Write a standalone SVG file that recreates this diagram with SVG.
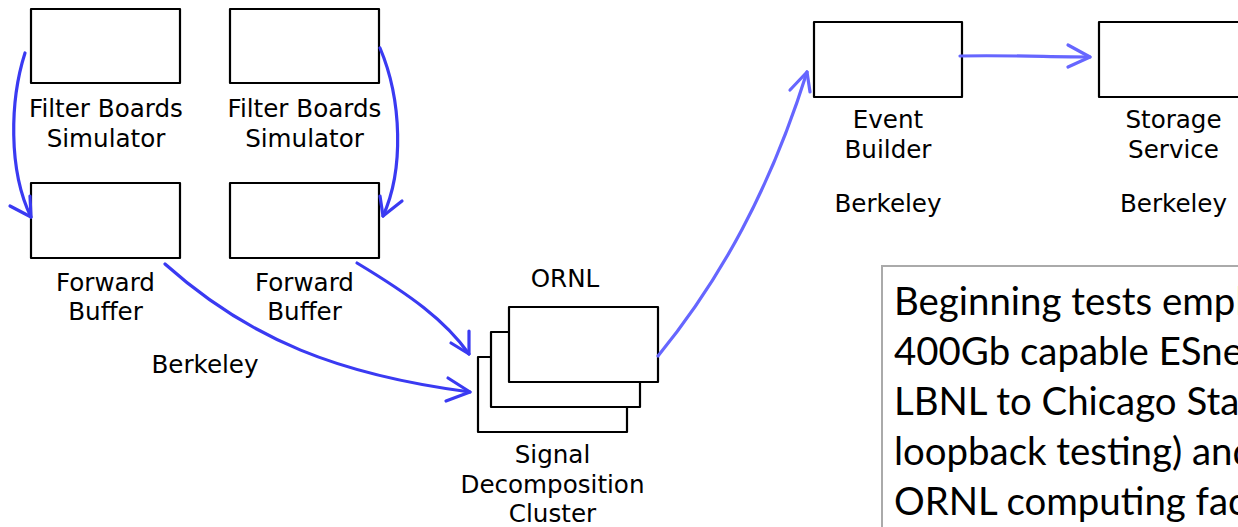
<svg xmlns="http://www.w3.org/2000/svg" width="1238" height="527" viewBox="0 0 1238 527">
  <defs>
    <style>
      .box { fill: #ffffff; stroke: #000000; stroke-width: 2.2; stroke-linejoin: round; }
      .lbl { font-family: "DejaVu Sans", Verdana, sans-serif; font-size: 24.6px; fill: #000000; text-anchor: middle; }
      .edge-a { fill: none; stroke: #3a3af2; stroke-width: 3.2; stroke-linecap: round; stroke-linejoin: round; }
      .edge-b { fill: none; stroke: #6666ff; stroke-width: 3.2; stroke-linecap: round; stroke-linejoin: round; }
      .note-frame { fill: #ffffff; stroke: #aaaaaa; stroke-width: 2; }
      .note { font-family: Lato, "Noto Sans", sans-serif; font-size: 38.4px; fill: #000000; }
    </style>
  </defs>

  <rect width="1238" height="527" fill="#ffffff"/>

  <!-- Filter boards simulators -->
  <g id="fbs-left">
    <rect class="box" x="31" y="9" width="149" height="74"/>
    <text class="lbl" x="106" y="117">Filter Boards</text>
    <text class="lbl" x="106" y="147">Simulator</text>
  </g>
  <g id="fbs-right">
    <rect class="box" x="230" y="9" width="149" height="74"/>
    <text class="lbl" x="304.5" y="117">Filter Boards</text>
    <text class="lbl" x="304.5" y="147">Simulator</text>
  </g>

  <!-- Forward buffers -->
  <g id="fb-left">
    <rect class="box" x="31" y="183" width="149" height="75"/>
    <text class="lbl" x="105.5" y="291">Forward</text>
    <text class="lbl" x="105.5" y="320">Buffer</text>
  </g>
  <g id="fb-right">
    <rect class="box" x="230" y="183" width="149" height="75"/>
    <text class="lbl" x="304.5" y="291">Forward</text>
    <text class="lbl" x="304.5" y="320">Buffer</text>
  </g>
  <g id="site-berkeley-left">
    <text class="lbl" x="205" y="373">Berkeley</text>
  </g>

  <!-- Signal decomposition cluster (stack of three) -->
  <g id="sdc">
    <text class="lbl" x="565" y="287">ORNL</text>
    <rect class="box" x="478" y="357" width="149" height="75"/>
    <rect class="box" x="491" y="332" width="149" height="75"/>
    <rect class="box" x="509" y="307" width="149" height="75"/>
    <text class="lbl" x="552.5" y="463">Signal</text>
    <text class="lbl" x="552.5" y="493">Decomposition</text>
    <text class="lbl" x="552.5" y="522">Cluster</text>
  </g>

  <!-- Event builder -->
  <g id="event-builder">
    <rect class="box" x="814" y="22" width="148" height="75"/>
    <text class="lbl" x="888" y="128">Event</text>
    <text class="lbl" x="888" y="158">Builder</text>
    <text class="lbl" x="888" y="212">Berkeley</text>
  </g>

  <!-- Storage service -->
  <g id="storage-service">
    <rect class="box" x="1099" y="22" width="149" height="75"/>
    <text class="lbl" x="1173.5" y="128">Storage</text>
    <text class="lbl" x="1173.5" y="158">Service</text>
    <text class="lbl" x="1173.5" y="212">Berkeley</text>
  </g>

  <!-- Connectors -->
  <g id="connectors">
    <!-- simulator -> buffer (left) -->
    <path class="edge-a" d="M25 53 C10 100 8 170 31 217"/>
    <path class="edge-a" d="M10 206 L31 217 L30 196"/>
    <!-- simulator -> buffer (right) -->
    <path class="edge-a" d="M380 48 C402 100 404 170 383 216"/>
    <path class="edge-a" d="M402 201 L383 216 L380 196"/>
    <!-- buffer (left) -> cluster -->
    <path class="edge-a" d="M165 264 C250 340 340 375 470 392"/>
    <path class="edge-a" d="M448 378 L470 392 L446 401"/>
    <!-- buffer (right) -> cluster -->
    <path class="edge-a" d="M357 263 C410 295 445 320 469 354"/>
    <path class="edge-a" d="M451 343 L469 354 L469 331"/>
    <!-- cluster -> event builder -->
    <path class="edge-b" d="M658 356 C720 280 770 190 807 72"/>
    <path class="edge-b" d="M790 90 L807 72 L810 92"/>
    <!-- event builder -> storage -->
    <path class="edge-b" d="M960 56 C1010 55 1050 57 1090 57"/>
    <path class="edge-b" d="M1068 45 L1090 57 L1068 67"/>
  </g>

  <!-- Note panel, running past the right and bottom edges -->
  <g id="note">
    <rect class="note-frame" x="882" y="266" width="380" height="290"/>
    <text class="note" x="894" y="315">Beginning tests empl</text>
    <text class="note" x="894" y="365">400Gb capable ESnet</text>
    <text class="note" x="894" y="415">LBNL to Chicago Star</text>
    <text class="note" x="894" y="465">loopback testing) and</text>
    <text class="note" x="894" y="515">ORNL computing faci</text>
  </g>
</svg>
